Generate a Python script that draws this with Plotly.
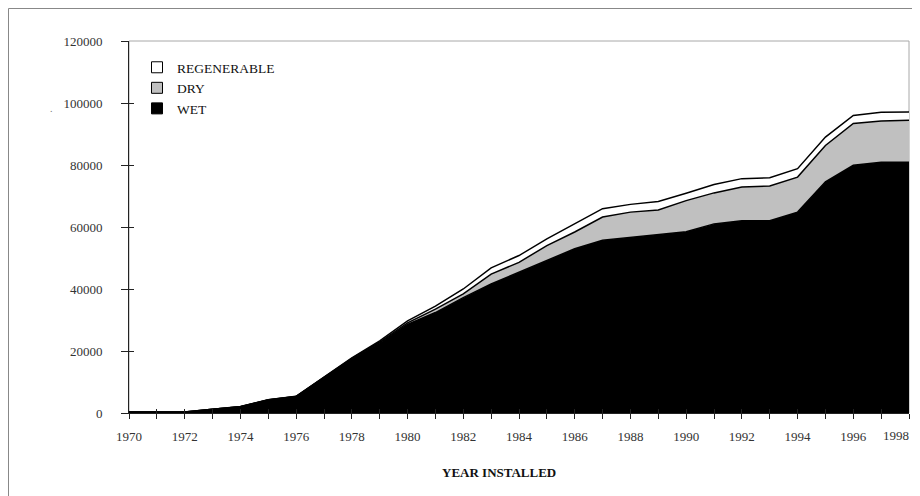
import plotly.graph_objects as go

years = list(range(1970, 1999))
wet = [300, 300, 300, 1200, 2000, 4200, 5300, 11400, 17400, 22600, 28600, 32400,
       37200, 41600, 45400, 49400, 53000, 55700, 56700, 57600, 58500, 61000,
       62000, 62000, 64800, 74600, 79900, 80900, 80900]
dry = [0, 0, 0, 0, 50, 50, 50, 100, 200, 300, 500, 1100,
       1200, 3200, 3200, 4600, 5400, 7500, 8100, 7900, 10000, 10000,
       10900, 11200, 11300, 11700, 13500, 13300, 13500]
regenerable = [0, 0, 0, 0, 50, 50, 50, 100, 200, 400, 600, 1000,
               1600, 2000, 2200, 2200, 2700, 2700, 2500, 2700, 2400, 2700,
               2700, 2700, 2700, 2700, 2600, 2800, 2700]

series_names = ["WET", "DRY", "REGENERABLE"]
series_colors = ["black", "#c0c0c0", "white"]

x_tick_vals = list(range(1970, 1997, 2))   # labels drawn by the axis
x_last_label = 1998                         # edge label, kept inside the page
y_tick_vals = [0, 20000, 40000, 60000, 80000, 100000, 120000]

SERIF = "Liberation Serif, Times New Roman, serif"

# figure sits inside the page's 8px body margin
FW, FH = 912, 488
ML, MR, MT, MB = 121, 11, 33, 83
PW = FW - ML - MR
PH = FH - MT - MB

fig = go.Figure()
for name, vals, col in zip(series_names, [wet, dry, regenerable], series_colors):
    fig.add_trace(go.Scatter(x=years, y=vals, name=name, stackgroup="one",
                             mode="lines", line=dict(color="black", width=1.5),
                             fillcolor=col, showlegend=False))
# legend entries with square swatches
for name, col in zip(series_names, series_colors):
    fig.add_trace(go.Scatter(x=[None], y=[None], name=name, mode="markers",
                             marker=dict(symbol="square", size=11, color=col,
                                         line=dict(color="black", width=1)),
                             showlegend=True))
# empty trace to activate overlay axes used for crossing tick marks
fig.add_trace(go.Scatter(x=[], y=[], xaxis="x2", yaxis="y2", showlegend=False))

fig.update_layout(
    width=FW, height=FH,
    margin=dict(l=ML, r=MR, t=MT, b=MB, autoexpand=False),
    paper_bgcolor="white", plot_bgcolor="white",
    font=dict(family=SERIF, size=13, color="#222"),
    showlegend=True,
    legend=dict(x=(129 - ML) / PW, y=(405 - 44) / PH, xanchor="left", yanchor="top",
                traceorder="reversed", bgcolor="rgba(0,0,0,0)",
                font=dict(family=SERIF, size=13.5, color="#111"),
                tracegroupgap=0, itemwidth=30),
    xaxis=dict(range=[1970, 1998], tickmode="array", tickvals=x_tick_vals + [x_last_label],
               ticktext=[str(v) for v in x_tick_vals] + [""], automargin=False,
               showgrid=False, zeroline=False, showline=True, linecolor="#222",
               linewidth=1, ticks="outside", ticklen=5, tickcolor="#222",
               tickwidth=1, ticklabelstandoff=6,
               tickfont=dict(family=SERIF, size=13, color="#333"),
               minor=dict(dtick=1, tick0=1970, ticks="outside", ticklen=5,
                          tickcolor="#222", tickwidth=1, showgrid=False)),
    yaxis=dict(range=[0, 120000], tickmode="array", tickvals=y_tick_vals,
               ticktext=[str(v) for v in y_tick_vals], automargin=False,
               showgrid=False, zeroline=False, showline=True, linecolor="#222",
               linewidth=1, ticks="outside", ticklen=7, tickcolor="#222",
               tickwidth=1, ticklabelstandoff=16,
               tickfont=dict(family=SERIF, size=13, color="#333")),
    xaxis2=dict(range=[1970, 1998], overlaying="x", anchor="y2", side="bottom",
                tickmode="linear", tick0=1970, dtick=1, ticks="inside", ticklen=4,
                tickcolor="#222", showticklabels=False, showgrid=False,
                zeroline=False, showline=False, automargin=False),
    yaxis2=dict(range=[0, 120000], overlaying="y", anchor="x2", side="left",
                tickmode="array", tickvals=y_tick_vals, ticks="inside", ticklen=5,
                tickcolor="#222", showticklabels=False, showgrid=False,
                zeroline=False, showline=False, automargin=False),
    shapes=[
        # plot area frame (top / right)
        dict(type="rect", xref="paper", yref="paper", x0=0, y0=0, x1=1, y1=1,
             line=dict(color="#a8a8a8", width=1), layer="below"),
        # outer chart frame
        dict(type="rect", xref="paper", yref="paper",
             x0=(0.5 - ML) / PW, x1=(909.5 - ML) / PW,
             y0=(405 - 495) / PH, y1=(405 - 0.5) / PH,
             line=dict(color="#888", width=1)),
    ],
    annotations=[
        dict(text=str(x_last_label), xref="x", yref="paper",
             x=x_last_label, y=(405 - 427) / PH, showarrow=False,
             xanchor="right", yanchor="middle", xshift=2,
             font=dict(family=SERIF, size=13, color="#333")),
        dict(text="<b>YEAR INSTALLED</b>", xref="paper", yref="paper",
             x=(491 - ML) / PW, y=(405 - 464) / PH, showarrow=False,
             xanchor="center", yanchor="middle",
             font=dict(family=SERIF, size=13, color="#111")),
        dict(text=".", xref="paper", yref="paper",
             x=(40 - ML) / PW, y=(405 - 93) / PH, showarrow=False,
             font=dict(family=SERIF, size=10, color="#777")),
    ],
)

fig.write_html("out.html")
